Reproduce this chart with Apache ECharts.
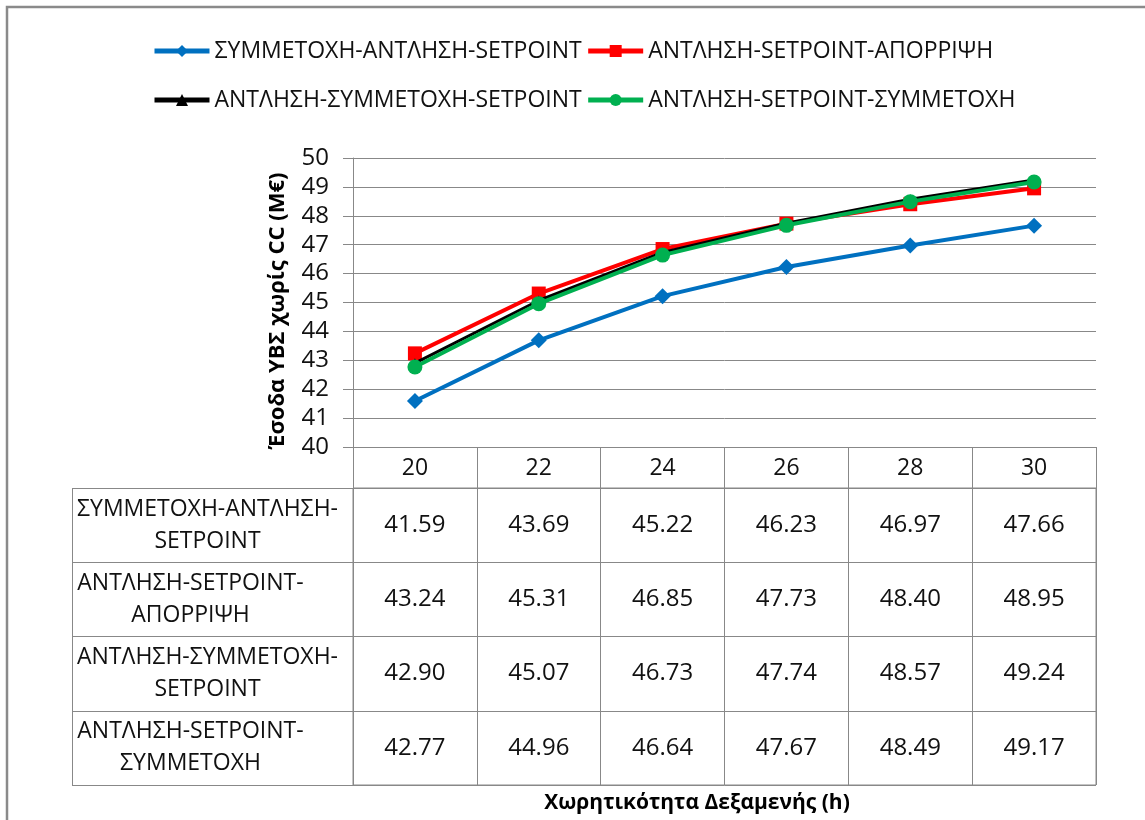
<!DOCTYPE html>
<html>
<head>
<meta charset="utf-8">
<script src="https://cdn.jsdelivr.net/npm/echarts@6/dist/echarts.min.js"></script>
<style>
  html, body { margin: 0; padding: 0; background: #fff; }
  #chart { width: 1145px; height: 820px; }
</style>
</head>
<body>
<div id="chart"></div>
<script>
// Tank capacity (h) on the category axis
const categories = ['20', '22', '24', '26', '28', '30'];

// Strategy names, in legend / table order
const seriesNames = [
  'ΣΥΜΜΕΤΟΧΗ-ΑΝΤΛΗΣΗ-SETPOINT',
  'ΑΝΤΛΗΣΗ-SETPOINT-ΑΠΟΡΡΙΨΗ',
  'ΑΝΤΛΗΣΗ-ΣΥΜΜΕΤΟΧΗ-SETPOINT',
  'ΑΝΤΛΗΣΗ-SETPOINT-ΣΥΜΜΕΤΟΧΗ'
];

// Revenue without CC (M€) per strategy
const symmetochiAntlisiSetpoint = [41.59, 43.69, 45.22, 46.23, 46.97, 47.66];
const antlisiSetpointAporripsi  = [43.24, 45.31, 46.85, 47.73, 48.40, 48.95];
const antlisiSymmetochiSetpoint = [42.90, 45.07, 46.73, 47.74, 48.57, 49.24];
const antlisiSetpointSymmetochi = [42.77, 44.96, 46.64, 47.67, 48.49, 49.17];

// Value axis range
const yMin = 40, yMax = 50, yStep = 1;

const yTitle = 'Έσοδα ΥΒΣ χωρίς CC (M€)';
const xTitle = 'Χωρητικότητα Δεξαμενής (h)';

const allValues = [
  symmetochiAntlisiSetpoint,
  antlisiSetpointAporripsi,
  antlisiSymmetochiSetpoint,
  antlisiSetpointSymmetochi
];

// ---- layout ----
const FONT = '"Open Sans", "Noto Sans", sans-serif';
const FS = 23;
const TEXT_COLOR = '#111111';
const GRID_COLOR = '#888888';
const plot = { left: 353, right: 49, top: 158, bottom: 373 };   // chart area
const table = { left: 353, right: 49, top: 488, bottom: 35 };    // value cells
const labelColLeft = 72;                                         // row-name column

const W = 1145, H = 820;

const styles = [
  { color: '#0070C0', symbol: 'diamond',  size: 16, width: 4 },
  { color: '#FF0000', symbol: 'rect',     size: 14, width: 4 },
  { color: '#000000', symbol: 'triangle', size: 10, width: 3 },
  { color: '#00B050', symbol: 'circle',   size: 15, width: 4 }
];

// Row names wrap after their last hyphen; lines are centred on each other
function splitName(name) {
  const i = name.lastIndexOf('-');
  return [name.slice(0, i + 1), name.slice(i + 1)];
}
const measureCtx = document.createElement('canvas').getContext('2d');
measureCtx.font = FS + 'px ' + FONT;
const rowRich = {};
const rowKey = {};
seriesNames.forEach((n, i) => {
  const parts = splitName(n);
  const w = Math.ceil(Math.max(measureCtx.measureText(parts[0]).width,
                               measureCtx.measureText(parts[1]).width));
  rowKey[n] = 'r' + i;
  rowRich['r' + i] = {
    width: w, align: 'center', fontSize: FS, fontFamily: FONT,
    color: TEXT_COLOR, lineHeight: 32
  };
});

const lineSeries = seriesNames.map((name, i) => ({
  name: name,
  type: 'line',
  xAxisIndex: 0,
  yAxisIndex: 0,
  data: allValues[i],
  symbol: styles[i].symbol,
  symbolSize: styles[i].size,
  showSymbol: true,
  lineStyle: { color: styles[i].color, width: styles[i].width },
  itemStyle: { color: styles[i].color },
  z: 3 + i,
  animation: false
}));

// Table cells: [column, row, value]
const cellData = [];
allValues.forEach((row, r) => {
  row.forEach((v, c) => cellData.push([c, r, v]));
});

const legendText = { fontSize: FS, fontFamily: FONT, color: TEXT_COLOR, lineHeight: 26 };
const legendItems = seriesNames.map(n => ({ name: n, lineStyle: { width: 5 } }));

const option = {
  animation: false,
  backgroundColor: '#ffffff',
  textStyle: { fontFamily: FONT },
  legend: [
    {
      data: legendItems.slice(0, 2),
      left: 147, top: 33,
      itemWidth: 55, itemHeight: 15, itemGap: 4,
      textStyle: legendText,
      selectedMode: false
    },
    {
      data: legendItems.slice(2, 4),
      left: 147, top: 82,
      itemWidth: 55, itemHeight: 15, itemGap: 4,
      textStyle: legendText,
      selectedMode: false
    }
  ],
  grid: [
    Object.assign({ containLabel: false }, plot),
    Object.assign({
      containLabel: false, show: true,
      borderColor: GRID_COLOR, borderWidth: 1, backgroundColor: 'transparent'
    }, table)
  ],
  xAxis: [
    {
      type: 'category',
      gridIndex: 0,
      data: categories,
      boundaryGap: true,
      axisLine: { show: true, lineStyle: { color: GRID_COLOR, width: 1 } },
      axisTick: { show: true, length: 41, interval: 0, alignWithLabel: false,
                  lineStyle: { color: GRID_COLOR, width: 1 } },
      axisLabel: { fontSize: FS, fontFamily: FONT, color: TEXT_COLOR,
                   margin: 8, lineHeight: 26, interval: 0 },
      splitLine: { show: false }
    },
    {
      type: 'category',
      gridIndex: 1,
      data: categories,
      boundaryGap: true,
      axisLine: { show: false },
      axisTick: { show: false },
      axisLabel: { show: false },
      splitLine: { show: true, interval: 0, lineStyle: { color: GRID_COLOR, width: 1 } }
    }
  ],
  yAxis: [
    {
      type: 'value',
      gridIndex: 0,
      min: yMin, max: yMax, interval: yStep,
      axisLine: { show: true, lineStyle: { color: GRID_COLOR, width: 1 } },
      axisTick: { show: true, length: 10, lineStyle: { color: GRID_COLOR, width: 1 } },
      axisLabel: { fontSize: 24, fontFamily: FONT, color: TEXT_COLOR, margin: 24 },
      splitLine: { show: true, lineStyle: { color: GRID_COLOR, width: 1 } }
    },
    {
      type: 'category',
      gridIndex: 1,
      inverse: true,
      data: seriesNames,
      boundaryGap: true,
      axisLine: { show: true, lineStyle: { color: GRID_COLOR, width: 1 } },
      axisTick: { show: true, length: table.left - labelColLeft, interval: 0,
                  lineStyle: { color: GRID_COLOR, width: 1 } },
      splitLine: { show: true, interval: 0, lineStyle: { color: GRID_COLOR, width: 1 } },
      axisLabel: {
        interval: 0,
        align: 'left',
        margin: table.left - labelColLeft - 5,
        formatter: function (name) {
          const k = rowKey[name];
          const p = splitName(name);
          return '{' + k + '|' + p[0] + '}\n{' + k + '|' + p[1] + '}';
        },
        rich: rowRich
      }
    }
  ],
  series: lineSeries.concat([
    {
      name: 'cells',
      type: 'scatter',
      xAxisIndex: 1,
      yAxisIndex: 1,
      data: cellData,
      symbolSize: 1,
      itemStyle: { color: 'rgba(0,0,0,0)', opacity: 1 },
      silent: true,
      label: {
        show: true,
        position: 'inside',
        fontSize: 24,
        fontFamily: FONT,
        color: TEXT_COLOR,
        opacity: 1,
        formatter: p => p.value[2].toFixed(2)
      },
      animation: false
    }
  ]),
  graphic: [
    // outer chart frame
    {
      type: 'rect',
      shape: { x: 7, y: 7, width: W + 20, height: H + 20 },
      style: { fill: 'none', stroke: '#8a8a8a', lineWidth: 2.5 },
      silent: true
    },
    // left edge of the row-name column
    {
      type: 'line',
      shape: { x1: labelColLeft + 0.5, y1: table.top, x2: labelColLeft + 0.5, y2: H - table.bottom },
      style: { stroke: GRID_COLOR, lineWidth: 1 },
      silent: true
    },
    // value axis title
    {
      type: 'text',
      x: 278, y: 311,
      rotation: Math.PI / 2,
      style: {
        text: yTitle, fontSize: 22, fontWeight: 'bold', fontFamily: FONT,
        fill: '#000', align: 'center', verticalAlign: 'middle'
      },
      silent: true
    },
    // category axis title
    {
      type: 'text',
      x: 697, y: 803,
      style: {
        text: xTitle, fontSize: 21, fontWeight: 'bold', fontFamily: FONT,
        fill: '#000', align: 'center', verticalAlign: 'middle'
      },
      silent: true
    }
  ]
};

const chart = echarts.init(document.getElementById('chart'), null, { renderer: 'canvas' });
chart.setOption(option);
</script>
</body>
</html>
